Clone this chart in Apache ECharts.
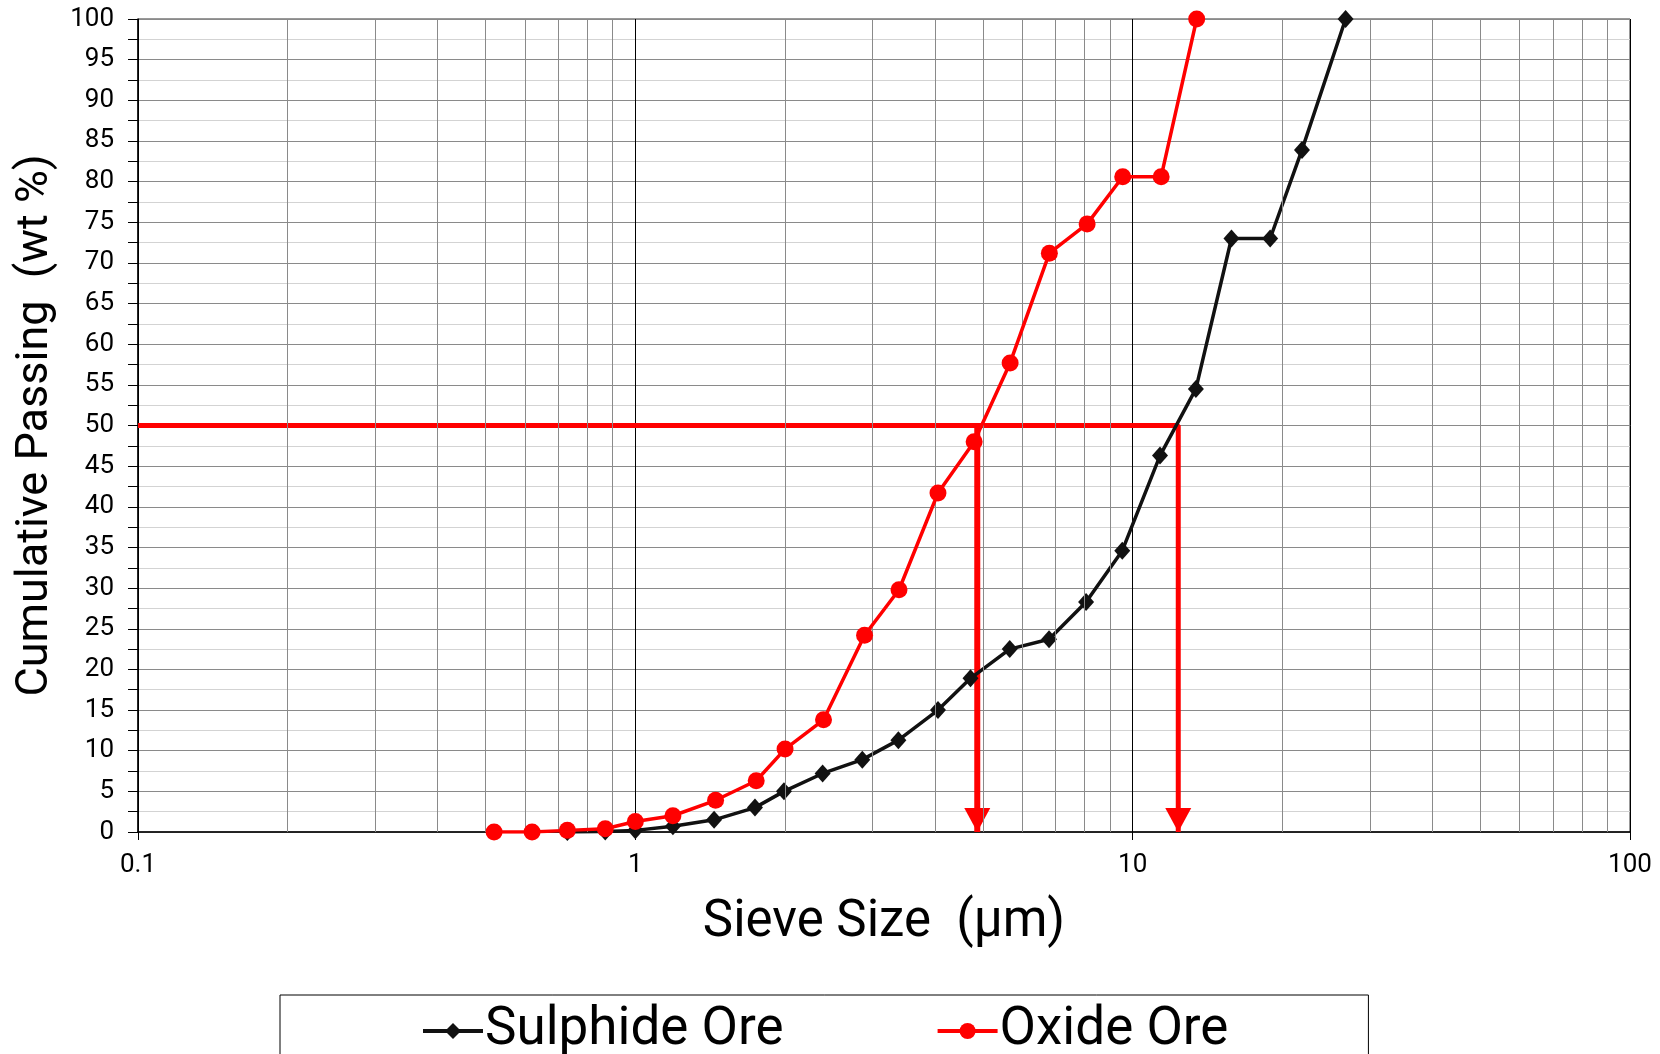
<!DOCTYPE html>
<html>
<head>
<meta charset="utf-8">
<title>Cumulative Passing vs Sieve Size</title>
<script src="https://cdn.jsdelivr.net/npm/echarts@6/dist/echarts.min.js"></script>
<style>
  html, body { margin: 0; padding: 0; background: #fff; }
  #chart { width: 1660px; height: 1054px; }
</style>
</head>
<body>
<div id="chart"></div>
<script>
// Sieve sizes (µm) and cumulative passing (wt %) for each ore
const sulphideSize = [0.73, 0.87, 1.0, 1.19, 1.44, 1.74, 1.99, 2.38, 2.86, 3.38, 4.06, 4.72, 5.66, 6.79, 8.06, 9.53, 11.35, 13.4, 15.8, 18.9, 21.9, 26.8];
const sulphidePass = [0, 0.05, 0.2, 0.7, 1.5, 3.0, 5.0, 7.2, 8.9, 11.3, 15.0, 18.9, 22.5, 23.7, 28.3, 34.6, 46.3, 54.5, 73.0, 73.0, 83.9, 100];

const oxideSize = [0.52, 0.62, 0.73, 0.87, 1.0, 1.19, 1.45, 1.75, 2.0, 2.39, 2.89, 3.39, 4.06, 4.80, 5.67, 6.80, 8.10, 9.55, 11.41, 13.45];
const oxidePass = [0, 0, 0.2, 0.4, 1.3, 2.0, 3.9, 6.3, 10.2, 13.8, 24.2, 29.8, 41.7, 48.0, 57.7, 71.2, 74.8, 80.6, 80.6, 100];

// d50 read-off: passing level and the sizes where each curve crosses it
const d50Level = 50;
const d50Oxide = 4.87;
const d50Sulphide = 12.35;

// Intermediate log-decade grid positions
const minorGridX = [0.2, 0.3, 0.4, 0.5, 0.6, 0.7, 0.8, 0.9,
                    2, 3, 4, 5, 6, 7, 8, 9,
                    20, 30, 40, 50, 60, 70, 80, 90];
const xMin = 0.1, xMax = 100;
const yTicks = { min: 0, max: 100, step: 5 };

const zip = (xs, ys) => xs.map((x, i) => [x, ys[i]]);

const FONT = 'Roboto';
const RED = '#ff0000';
const BLACK = '#111111';

const chart = echarts.init(document.getElementById('chart'), null, { renderer: 'canvas' });

const option = {
  animation: false,
  backgroundColor: '#ffffff',
  grid: {
    left: 138, top: 19, width: 1492, height: 813,
    show: true, borderColor: '#333', borderWidth: 1, backgroundColor: 'transparent'
  },
  xAxis: {
    type: 'log',
    logBase: 10,
    min: xMin,
    max: xMax,
    name: 'Sieve Size  (\u00b5m)',
    nameLocation: 'middle',
    nameGap: 66,
    nameTextStyle: { fontFamily: FONT, fontSize: 51, color: '#000' },
    axisLine: { lineStyle: { color: '#000', width: 1.5 } },
    axisTick: { show: true, length: 8, inside: false, lineStyle: { color: '#000' } },
    minorTick: { show: false },
    axisLabel: {
      fontFamily: FONT, fontSize: 26, color: '#000', margin: 20,
      formatter: v => String(v)
    },
    splitLine: { show: true, lineStyle: { color: '#000', width: 1 } }
  },
  yAxis: {
    type: 'value',
    min: yTicks.min,
    max: yTicks.max,
    interval: yTicks.step,
    name: 'Cumulative Passing  (wt %)',
    nameLocation: 'middle',
    nameRotate: 90,
    nameGap: 80,
    nameTextStyle: { fontFamily: FONT, fontSize: 45, color: '#000' },
    axisLine: { show: true, lineStyle: { color: '#000', width: 1.5 } },
    axisTick: { show: true, length: 10, inside: false, lineStyle: { color: '#000' } },
    minorTick: { show: true, splitNumber: 2, length: 10, lineStyle: { color: '#000' } },
    axisLabel: { fontFamily: FONT, fontSize: 26, color: '#000', margin: 24 },
    splitLine: { show: true, lineStyle: { color: '#8a8a8a', width: 1 } },
    minorSplitLine: { show: true, lineStyle: { color: '#d3d3d3', width: 1 } }
  },
  legend: {
    data: ['Sulphide Ore', 'Oxide Ore'],
    left: 280,
    top: 995,
    orient: 'horizontal',
    padding: [6, 140, 60, 141],
    itemGap: 152,
    itemWidth: 60,
    itemHeight: 20,
    borderColor: '#000',
    borderWidth: 1,
    lineStyle: { width: 4 },
    textStyle: { fontFamily: FONT, fontSize: 53, color: '#000', lineHeight: 60, padding: [0, 0, 0, -3] }
  },
  series: [
    {
      // intermediate vertical grid lines for the log axis
      name: 'logGrid',
      type: 'line',
      data: [],
      silent: true,
      z: 1,
      markLine: {
        silent: true,
        symbol: ['none', 'none'],
        label: { show: false },
        lineStyle: { color: '#8a8a8a', width: 1, type: 'solid' },
        data: minorGridX.map(v => ({ xAxis: v }))
      }
    },
    {
      // d50 read-off lines
      name: 'd50Sulphide',
      type: 'line',
      data: [[xMin, d50Level], [d50Sulphide, d50Level], [d50Sulphide, 0]],
      symbol: 'none',
      silent: true,
      z: 3,
      lineStyle: { color: RED, width: 5 }
    },
    {
      name: 'd50Oxide',
      type: 'line',
      data: [[d50Oxide, d50Level], [d50Oxide, 0]],
      symbol: 'none',
      silent: true,
      z: 3,
      lineStyle: { color: RED, width: 6 }
    },
    {
      name: 'd50Arrows',
      type: 'scatter',
      data: [[d50Oxide, 0], [d50Sulphide, 0]],
      symbol: 'triangle',
      symbolRotate: 180,
      symbolSize: [26, 24],
      symbolOffset: [0, -12],
      silent: true,
      z: 3,
      itemStyle: { color: RED, opacity: 1 }
    },
    {
      name: 'Sulphide Ore',
      type: 'line',
      data: zip(sulphideSize, sulphidePass),
      symbol: 'diamond',
      symbolSize: [16, 18],
      z: 4,
      lineStyle: { color: BLACK, width: 3.5 },
      itemStyle: { color: BLACK }
    },
    {
      name: 'Oxide Ore',
      type: 'line',
      data: zip(oxideSize, oxidePass),
      symbol: 'circle',
      symbolSize: 17,
      z: 5,
      lineStyle: { color: RED, width: 3.5 },
      itemStyle: { color: RED }
    }
  ]
};

chart.setOption(option);
</script>
</body>
</html>
